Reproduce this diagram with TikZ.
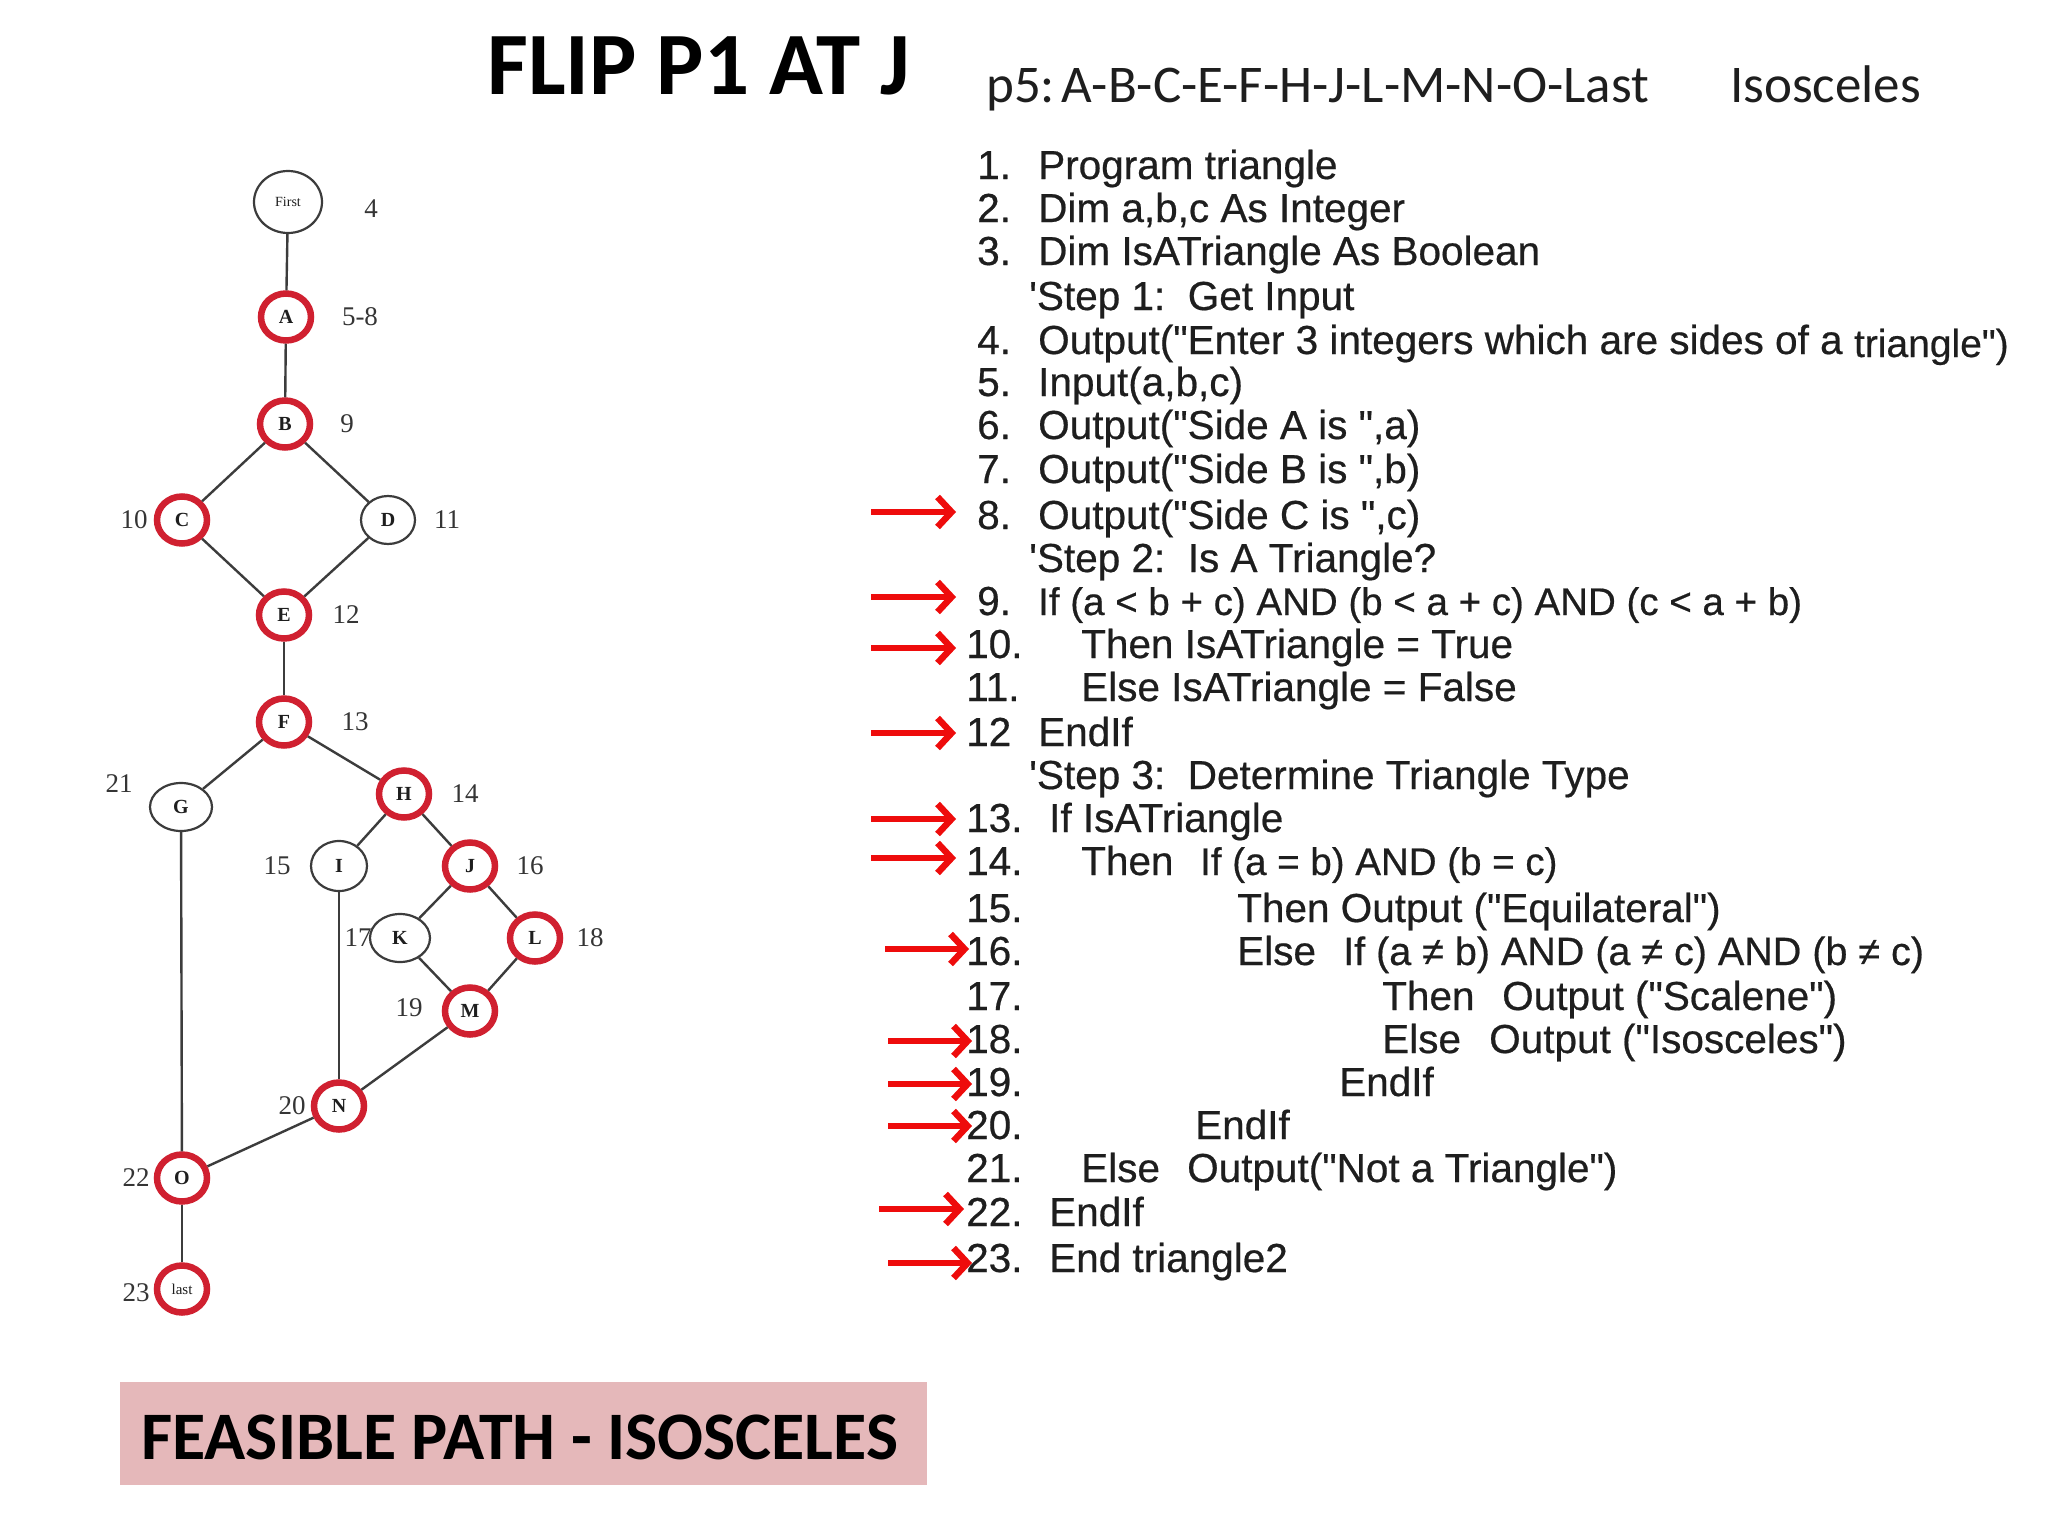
\documentclass[tikz,border=0pt]{standalone}
\usepackage{fontspec}
\usetikzlibrary{shapes.geometric,arrows.meta}
\newfontfamily\codefont[FakeBold=0.5]{Liberation Sans}
\newfontfamily\headfont{Carlito}
\newfontfamily\tnrfont{Liberation Serif}
\definecolor{ringred}{RGB}{208,32,48}
\definecolor{arrred}{RGB}{238,12,12}
\definecolor{boxpink}{RGB}{229,184,186}
\definecolor{ink}{RGB}{30,30,30}
\definecolor{edgec}{RGB}{60,60,60}
\tikzset{
  rnode/.style={ellipse, draw=ringred, line width=6.5pt, minimum width=50pt, minimum height=47pt, inner sep=0pt,
    font=\tnrfont\bfseries\fontsize{20}{21}\selectfont, text=ink},
  bnode/.style={ellipse, draw=edgec, line width=2.2pt, minimum width=54pt, minimum height=48pt, inner sep=0pt,
    font=\tnrfont\bfseries\fontsize{20}{21}\selectfont, text=ink},
  gedge/.style={draw=edgec, line width=2.4pt},
  num/.style={inner sep=0pt, font=\tnrfont\fontsize{27}{28}\selectfont, text=ink!90},
  code/.style={anchor=base west, inner sep=0pt, font=\codefont\fontsize{40.5}{44}\selectfont, text=ink},
  codesm/.style={code, font=\codefont\fontsize{38.5}{44}\selectfont},
  redarrow/.style={draw=arrred, line width=6.5pt, -{Straight Barb[length=14pt,width=30pt]}}
}
\begin{document}
\begin{tikzpicture}[x=1pt,y=-1pt]
\useasboundingbox (0,0) rectangle (2048,1536);
\fill[white] (0,0) rectangle (2048,1536);

% title
\node[anchor=base west, inner sep=0pt, font=\headfont\bfseries\fontsize{89}{90}\selectfont] (title) at (487,95) {FLIP P1 AT J};

% header
\node[anchor=base west, inner sep=0pt, font=\headfont\fontsize{53}{56}\selectfont, text=ink] (path) at (986,103) {p5:\hspace{0.12em}A-B-C-E-F-H-J-L-M-N-O-Last};
\node[anchor=base west, inner sep=0pt, font=\headfont\fontsize{53}{56}\selectfont, text=ink] (iso) at (1730,103) {Isosceles};

% graph nodes
\node[bnode, minimum width=68pt, minimum height=62pt, font=\tnrfont\fontsize{14}{15}\selectfont] (first) at (288,202) {First};
\node[rnode] (A) at (286,317) {A};
\node[rnode] (B) at (285,424) {B};
\node[rnode] (C) at (182,520) {C};
\node[bnode] (D) at (388,520) {D};
\node[rnode] (E) at (284,615) {E};
\node[rnode] (F) at (284,722) {F};
\node[bnode, minimum width=62pt] (G) at (181,807) {G};
\node[rnode] (H) at (404,794) {H};
\node[bnode, minimum width=56pt, minimum height=50pt] (I) at (339,866) {I};
\node[rnode] (J) at (470,866) {J};
\node[bnode, minimum width=60pt] (K) at (400,938) {K};
\node[rnode] (L) at (535,938) {L};
\node[rnode] (M) at (470,1011) {M};
\node[rnode] (N) at (339,1106) {N};
\node[rnode] (O) at (182,1178) {O};
\node[rnode, font=\tnrfont\fontsize{15}{16}\selectfont] (last) at (182,1289) {last};

% edges
\draw[gedge] (first) -- (A);
\draw[gedge] (A) -- (B);
\draw[gedge] (B) -- (C);
\draw[gedge] (B) -- (D);
\draw[gedge] (C) -- (E);
\draw[gedge] (D) -- (E);
\draw[gedge] (E) -- (F);
\draw[gedge] (F) -- (G);
\draw[gedge] (F) -- (H);
\draw[gedge] (H) -- (I);
\draw[gedge] (H) -- (J);
\draw[gedge] (J) -- (K);
\draw[gedge] (J) -- (L);
\draw[gedge] (K) -- (M);
\draw[gedge] (L) -- (M);
\draw[gedge] (I) -- (N);
\draw[gedge] (M) -- (N);
\draw[gedge] (G) -- (O);
\draw[gedge] (N) -- (O);
\draw[gedge] (O) -- (last);

% line-number labels
\node[num] (n4) at (371,209) {4};
\node[num] (n58) at (360,317) {5-8};
\node[num] (n9) at (347,424) {9};
\node[num] (n10) at (134,520) {10};
\node[num] (n11) at (447,520) {11};
\node[num] (n12) at (346,615) {12};
\node[num] (n13) at (355,722) {13};
\node[num] (n21) at (119,784) {21};
\node[num] (n14) at (465,794) {14};
\node[num] (n15) at (277,866) {15};
\node[num] (n16) at (530,866) {16};
\node[num] (n17) at (358,938) {17};
\node[num] (n18) at (590,938) {18};
\node[num] (n19) at (409,1008) {19};
\node[num] (n20) at (292,1106) {20};
\node[num] (n22) at (136,1178) {22};
\node[num] (n23) at (136,1293) {23};

% code listing
\node[code] (c1n) at (977,179) {1.};   \node[code] (c1t) at (1038,179) {Program triangle};
\node[code] (c2n) at (977,222) {2.};   \node[code] (c2t) at (1038,222) {Dim a,b,c As Integer};
\node[code] (c3n) at (977,265) {3.};   \node[code] (c3t) at (1038,265) {Dim IsATriangle As Boolean};
\node[code] (s1) at (1029,310) {\symbol{39}Step 1:\ \ Get Input};
\node[code] (c4n) at (977,354) {4.};   \node[code] (c4t) at (1038,354) {Output("Enter 3 integers which are sides of a \raisebox{-3pt}{\fontsize{39}{44}\selectfont triangle")}};
\node[code] (c5n) at (977,396) {5.};   \node[code] (c5t) at (1038,396) {Input(a,b,c)};
\node[code] (c6n) at (977,439) {6.};   \node[code] (c6t) at (1038,439) {Output("Side A is ",a)};
\node[code] (c7n) at (977,483) {7.};   \node[code] (c7t) at (1038,483) {Output("Side B is ",b)};
\node[code] (c8n) at (977,529) {8.};   \node[code] (c8t) at (1038,529) {Output("Side C is ",c)};
\node[code] (s2) at (1029,572) {\symbol{39}Step 2:\ \ Is A Triangle?};
\node[code] (c9n) at (977,615) {9.};   \node[codesm] (c9t) at (1038,615) {If (a < b + c) AND (b < a + c) AND (c < a + b)};
\node[code] (c10n) at (966,658) {10.}; \node[code] (c10t) at (1081,658) {Then IsATriangle = True};
\node[code] (c11n) at (966,701) {11.}; \node[code] (c11t) at (1081,701) {Else IsATriangle = False};
\node[code] (c12n) at (966,746) {12};  \node[code] (c12t) at (1038,746) {EndIf};
\node[code] (s3) at (1029,789) {\symbol{39}Step 3:\ \ Determine Triangle Type};
\node[code] (c13n) at (966,832) {13.}; \node[code] (c13t) at (1049,832) {If IsATriangle};
\node[code] (c14n) at (966,875) {14.}; \node[code] (c14a) at (1081,875) {Then}; \node[codesm] (c14b) at (1200,875) {If (a = b) AND (b = c)};
\node[code] (c15n) at (966,922) {15.}; \node[code] (c15t) at (1237,922) {Then Output ("Equilateral")};
\node[code] (c16n) at (966,965) {16.}; \node[code] (c16a) at (1237,965) {Else}; \node[code, font=\codefont\fontsize{39.5}{44}\selectfont] (c16b) at (1343,965) {If (a ≠ b) AND (a ≠ c) AND (b ≠ c)};
\node[code] (c17n) at (966,1010) {17.}; \node[code] (c17a) at (1382,1010) {Then}; \node[code] (c17b) at (1502,1010) {Output ("Scalene")};
\node[code] (c18n) at (966,1053) {18.}; \node[code] (c18a) at (1382,1053) {Else}; \node[code] (c18b) at (1489,1053) {Output ("Isosceles")};
\node[code] (c19n) at (966,1096) {19.}; \node[code] (c19t) at (1339,1096) {EndIf};
\node[code] (c20n) at (966,1139) {20.}; \node[code] (c20t) at (1195,1139) {EndIf};
\node[code] (c21n) at (966,1182) {21.}; \node[code] (c21a) at (1081,1182) {Else}; \node[code] (c21b) at (1187,1182) {Output("Not a Triangle")};
\node[code] (c22n) at (966,1226) {22.}; \node[code] (c22t) at (1049,1226) {EndIf};
\node[code] (c23n) at (966,1272) {23.}; \node[code] (c23t) at (1049,1272) {End triangle2};

% red arrows
\foreach \nm/\xa/\xb/\yy in {a8/871/956/512, a9/871/956/597, a10/871/956/648, a12/871/956/733,
  a13/871/956/819, a14/871/956/858, a16/885/969/949, a18/888/972/1041, a19/888/972/1084,
  a20/888/972/1126, a22/879/964/1209, a23/888/972/1263}{
  \coordinate (\nm s) at (\xa,\yy);
  \coordinate (\nm e) at (\xb,\yy);
  \draw[redarrow] (\nm s) -- (\nm e);
}

% bottom box
\fill[boxpink] (120,1382) rectangle (927,1485);
\node[anchor=base west, inner sep=0pt, font=\headfont\bfseries\fontsize{68}{70}\selectfont] (feas) at (141,1459) {FEASIBLE PATH - ISOSCELES};
\end{tikzpicture}
\end{document}
